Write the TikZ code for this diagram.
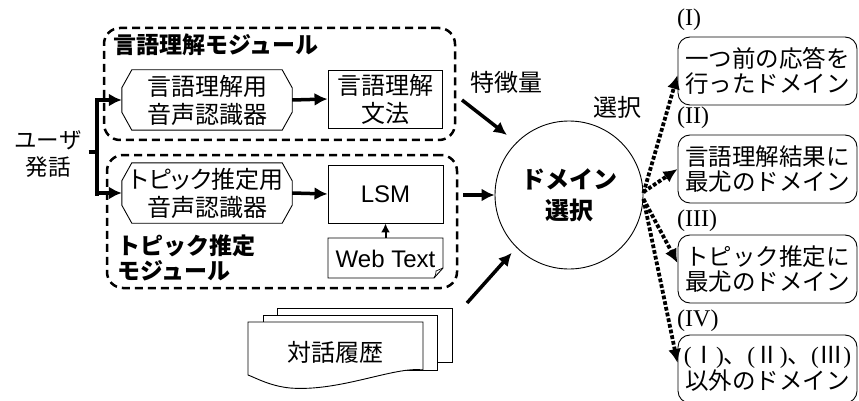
\documentclass[tikz,border=0pt]{standalone}
\usepackage{fontspec}
\setmainfont{Liberation Sans}
\newfontfamily\cjk{Noto Sans CJK JP}
\newfontfamily\cjkp[RawFeature=+palt]{Noto Sans CJK JP}
\newfontfamily\tms{Liberation Serif}
\usetikzlibrary{arrows.meta,calc}
\newcommand\octa[1]{%
  \draw[line width=0.9pt] ($(#1.north west)+(10,0)$) -- ($(#1.north east)+(-10,0)$)
    -- ($(#1.north east)+(0,18)$) -- ($(#1.south east)+(0,-18)$)
    -- ($(#1.south east)+(-10,0)$) -- ($(#1.south west)+(10,0)$)
    -- ($(#1.south west)+(0,-18)$) -- ($(#1.north west)+(0,18)$) -- cycle;}
\newcommand\rn[1]{{\tms(}\hspace{0.5pt}#1\hspace{0.5pt}{\tms)}}
\begin{document}
\begin{tikzpicture}[x=1pt,y=-1pt,
 jp/.style={font=\cjk\fontsize{24}{28}\selectfont, align=center, inner sep=0pt},
 jpb/.style={font=\cjk\bfseries\fontsize{23}{25}\selectfont, align=left, inner sep=0pt},
 module/.style={draw, line width=2.5pt, dash pattern=on 8pt off 5pt, rounded corners=16pt, inner sep=0pt},
 thinbox/.style={draw, line width=0.9pt, inner sep=0pt},
 rbox/.style={draw, line width=0.9pt, rounded corners=12pt, minimum width=179pt, minimum height=68pt, inner sep=0pt, align=center, font=\cjk\fontsize{23.5}{25.5}\selectfont},
 arr/.style={line width=3.5pt, -{Latex[length=13pt,width=13pt]}},
 thk/.style={line width=3.5pt},
 dotarr/.style={line width=3.8pt, dash pattern=on 3.8pt off 2pt, -{Latex[length=14pt,width=13pt]}},
 lab/.style={font=\tms\fontsize{24}{26}\selectfont, anchor=west, inner sep=0pt}
]
\useasboundingbox (0,0) rectangle (859,401);

% modules
\node[module, minimum width=351pt, minimum height=112pt] (m1) at (279.5,84) {};
\node[module, minimum width=350pt, minimum height=133pt] (m2) at (282,221.5) {};
\node[jpb, anchor=west] (t1) at (113,45) {言語理解モジュール};
\node[jpb, anchor=north west] (t2) at (117,235) {トピック推定\\モジュール};

% user
\node[jp, font=\cjk\fontsize{22.5}{27}\selectfont] (user) at (48,154) {ユーザ\\発話};
\coordinate (br) at (97,152);
\draw[thk] ([xshift=7pt]user.east |- br) -- (br);
\draw[line width=3.5pt] (97,98.5) -- (97,195.75);

% octagons
\node[jp, minimum width=170pt, minimum height=60pt] (o1) at (207,100) {言語理解用\\音声認識器};
\octa{o1}
\node[jp, minimum width=170pt, minimum height=60pt] (o2) at (207,193) {{\cjkp トピック推定用}\\音声認識器};
\octa{o2}
\draw[arr] (br |- o1.west) -- (o1.west);
\draw[arr] (br |- o2.west) -- (o2.west);

% grammar, LSM, web
\node[thinbox, jp, minimum width=114pt, minimum height=58pt] (g) at (385,99) {言語理解\\文法};
\node[thinbox, minimum width=115pt, minimum height=58pt, font=\fontsize{24}{28}\selectfont] (lsm) at (385.5,194) {LSM};
\node[inner sep=0pt, font=\fontsize{24}{28}\selectfont] (web) at (385.5,259) {Web Text};
\draw[line width=0.9pt] (328,238) -- (443,238) -- (443,268) -- (434,278) -- (328,278) -- cycle;
\draw[line width=0.7pt] (434,278) .. controls (436,274) .. (436,271) -- (443,268);
\coordinate (webtop) at (385.5,238);
\draw[arr] (o1.east) -- (g.west);
\draw[arr] (o2.east) -- (lsm.west);
\draw[line width=2pt, -{Latex[length=9pt,width=9pt]}] (webtop) -- (lsm.south);

% history documents
\draw[line width=0.9pt, fill=white] (277,308) rectangle (452,362);
\draw[line width=0.9pt, fill=white] (263,315) rectangle (437,370);
\draw[line width=0.9pt, fill=white] (248,322) -- (423,322) -- (423,370)
  .. controls (395,366) and (340,392) .. (290,388)
  .. controls (270,386) and (256,378) .. (248,375) -- cycle;
\node[jp] (hist) at (335,352) {対話履歴};

% domain selection
\node[draw, circle, minimum size=148pt, line width=0.9pt, inner sep=0pt,
      font=\cjk\bfseries\fontsize{24}{31}\selectfont, align=center] (dom) at (569,195) {ドメイン\\選択};
\node[jp] (feat) at (506,82) {特徴量};
\node[jp] (sel) at (617,107) {選択};
\coordinate (f0) at (462,100);
\draw[arr, shorten >=12pt] (f0) -- (dom.135);
\draw[arr] ([xshift=5pt]m2.east |- dom.west) -- (dom.west);
\coordinate (h0) at (467,303);
\draw[arr, shorten >=7pt] (h0) -- (dom.225);

% result boxes
\node[rbox] (r1) at (767.5,71) {一つ前の応答を\\行ったドメイン};
\node[rbox] (r2) at (767.5,169) {言語理解結果に\\最尤のドメイン};
\node[rbox] (r3) at (767.5,269) {トピック推定に\\最尤のドメイン};
\node[rbox] (r4) at (767.5,369) {\rn{Ⅰ}、\rn{Ⅱ}、\rn{Ⅲ}\\以外のドメイン};
\node[lab] (l1) at (677,20) {(I)};
\node[lab] (l2) at (677,118) {(II)};
\node[lab] (l3) at (677,221) {(III)};
\node[lab] (l4) at (677,321) {(IV)};

\draw[dotarr] ([yshift=2pt]dom.east) -- ([yshift=-4pt]r1.west);
\draw[dotarr] ([yshift=3pt]dom.east) -- (r2.west);
\draw[dotarr] ([yshift=-4pt]dom.east) -- ([yshift=6pt]r3.west);
\draw[dotarr] ([yshift=-4pt]dom.east) -- ([yshift=6pt]r4.west);
\end{tikzpicture}
\end{document}
